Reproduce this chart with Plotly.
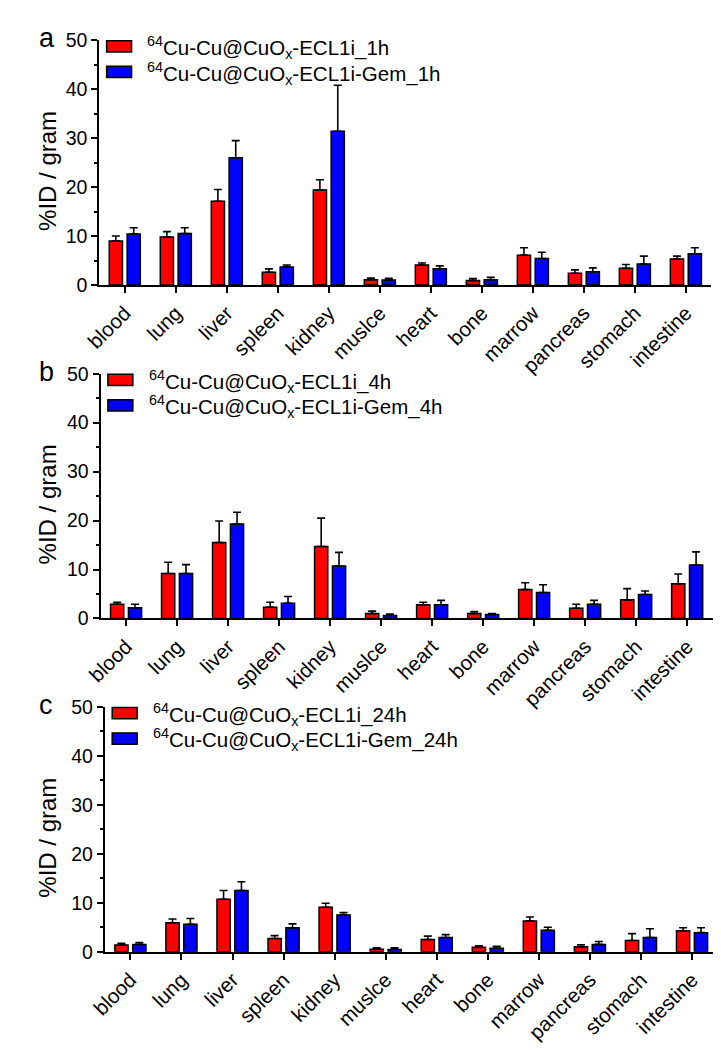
import plotly.graph_objects as go

categories = ["blood", "lung", "liver", "spleen", "kidney", "muslce", "heart",
              "bone", "marrow", "pancreas", "stomach", "intestine"]

# Panel a (1 h)
red_1h = [9.0, 9.8, 17.1, 2.6, 19.4, 1.1, 4.1, 0.9, 6.1, 2.4, 3.4, 5.3]
red_1h_err = [1.0, 1.1, 2.4, 0.7, 2.1, 0.3, 0.4, 0.4, 1.5, 0.7, 0.8, 0.6]
blue_1h = [10.4, 10.5, 26.0, 3.7, 31.4, 1.0, 3.3, 1.1, 5.4, 2.7, 4.3, 6.4]
blue_1h_err = [1.3, 1.2, 3.5, 0.4, 9.4, 0.35, 0.6, 0.5, 1.3, 0.8, 1.6, 1.2]

# Panel b (4 h)
red_4h = [2.9, 9.2, 15.5, 2.3, 14.7, 1.0, 2.8, 1.0, 5.9, 2.1, 3.8, 7.1]
red_4h_err = [0.4, 2.3, 4.4, 1.0, 5.8, 0.5, 0.5, 0.4, 1.4, 0.8, 2.3, 2.0]
blue_4h = [2.2, 9.2, 19.3, 3.1, 10.7, 0.6, 2.8, 0.8, 5.3, 2.9, 4.9, 10.9]
blue_4h_err = [0.7, 1.8, 2.4, 1.4, 2.8, 0.3, 0.9, 0.2, 1.6, 0.8, 0.7, 2.7]

# Panel c (24 h)
red_24h = [1.4, 5.9, 10.7, 2.7, 9.1, 0.5, 2.5, 0.9, 6.3, 1.0, 2.3, 4.3]
red_24h_err = [0.3, 0.8, 1.8, 0.6, 0.8, 0.3, 0.7, 0.3, 0.8, 0.4, 1.4, 0.6]
blue_24h = [1.5, 5.6, 12.5, 4.9, 7.5, 0.45, 2.9, 0.7, 4.4, 1.5, 2.9, 3.9]
blue_24h_err = [0.4, 1.2, 1.8, 0.8, 0.5, 0.35, 0.6, 0.4, 0.6, 0.6, 1.8, 1.0]

panel_letters = ["a", "b", "c"]
times = ["1h", "4h", "24h"]
red_series_name = "<sup>64</sup>Cu-Cu@CuO<sub>x</sub>-ECL1i_{}"
blue_series_name = "<sup>64</sup>Cu-Cu@CuO<sub>x</sub>-ECL1i-Gem_{}"
y_title = "%ID / gram"
y_ticks = [0, 10, 20, 30, 40, 50]

RED = "#FF0000"
BLUE = "#0000FF"
FONT = "Liberation Sans, Arial, sans-serif"
W, H = 721, 1050

# panel geometry in pixels (left, right, top, bottom)
panels_px = [(77, 703, 21.7, 271.7), (78.3, 704.3, 362.3, 612.3), (82.7, 709.3, 702.7, 952.7)]

data_sets = [
    (red_1h, red_1h_err, blue_1h, blue_1h_err),
    (red_4h, red_4h_err, blue_4h, blue_4h_err),
    (red_24h, red_24h_err, blue_24h, blue_24h_err),
]

fig = go.Figure()
layout = dict(
    width=W, height=H, margin=dict(l=0, r=0, t=0, b=0),
    paper_bgcolor="white", plot_bgcolor="white",
    barmode="group", bargap=0.3, bargroupgap=0.26,
    showlegend=False, font=dict(family=FONT, color="black"),
)
shapes = []
annotations = []

def px_x(x):
    return x / W

def px_y(y):
    return 1 - y / H

for i, ((l, r, t, b), (rv, re, bv, be)) in enumerate(zip(panels_px, data_sets)):
    xa = "x" if i == 0 else f"x{i+1}"
    ya = "y" if i == 0 else f"y{i+1}"
    for vals, errs, color, nm in [(rv, re, RED, red_series_name), (bv, be, BLUE, blue_series_name)]:
        fig.add_trace(go.Bar(
            x=categories, y=vals, xaxis=xa, yaxis=ya,
            name=nm.format(times[i]),
            marker=dict(color=color, line=dict(color="black", width=1.5)),
            error_y=dict(type="data", array=errs, arrayminus=[0] * len(errs),
                         symmetric=False, color="black", thickness=1.6, width=4),
        ))
    xkey = "xaxis" if i == 0 else f"xaxis{i+1}"
    ykey = "yaxis" if i == 0 else f"yaxis{i+1}"
    layout[xkey] = dict(
        domain=[px_x(l), px_x(r)], anchor=ya, type="category",
        categoryorder="array", categoryarray=categories,
        range=[-0.5, len(categories) - 0.5],
        showline=True, linecolor="black", linewidth=2,
        ticks="outside", ticklen=6, tickwidth=1.8, tickcolor="black",
        tickangle=-45, tickfont=dict(size=20.5, family=FONT, color="black"),
        showgrid=False, zeroline=False, fixedrange=True,
    )
    layout[ykey] = dict(
        domain=[px_y(b), px_y(t)], anchor=xa, range=[0, 50],
        tickvals=y_ticks, ticktext=[str(v) for v in y_ticks],
        showline=True, linecolor="black", linewidth=2,
        ticks="outside", ticklen=6, tickwidth=1.8, tickcolor="black",
        minor=dict(dtick=5, tick0=0, ticks="outside", ticklen=3, tickwidth=1.5, tickcolor="black"),
        tickfont=dict(size=19.5, family=FONT, color="black"),
        showgrid=False, zeroline=False, fixedrange=True,
    )
    # y title
    annotations.append(dict(
        text=y_title, textangle=-90, xref="paper", yref="paper",
        x=px_x(24), y=px_y((t + b) / 2 + 8), xanchor="center", yanchor="middle",
        showarrow=False, font=dict(size=24, family=FONT, color="black"),
    ))
    # panel letter
    annotations.append(dict(
        text=panel_letters[i], xref="paper", yref="paper",
        x=px_x(13), y=px_y(t - 2), xanchor="left", yanchor="middle",
        showarrow=False, font=dict(size=27, family=FONT, color="black"),
    ))
    # legend
    for k, (color, nm) in enumerate([(RED, red_series_name), (BLUE, blue_series_name)]):
        top = t + 0.5 + 26 * k
        shapes.append(dict(
            type="rect", xref="paper", yref="paper",
            x0=px_x(l + 7.5), x1=px_x(l + 33), y0=px_y(top + 11.5), y1=px_y(top),
            fillcolor=color, line=dict(color="black", width=1.5),
        ))
        annotations.append(dict(
            text=nm.format(times[i]), xref="paper", yref="paper",
            x=px_x(l + 47), y=px_y(top + 7), xanchor="left", yanchor="middle",
            showarrow=False, font=dict(size=20.5, family=FONT, color="black"),
        ))

layout["shapes"] = shapes
layout["annotations"] = annotations
fig.update_layout(**layout)
fig.write_html("out.html")
